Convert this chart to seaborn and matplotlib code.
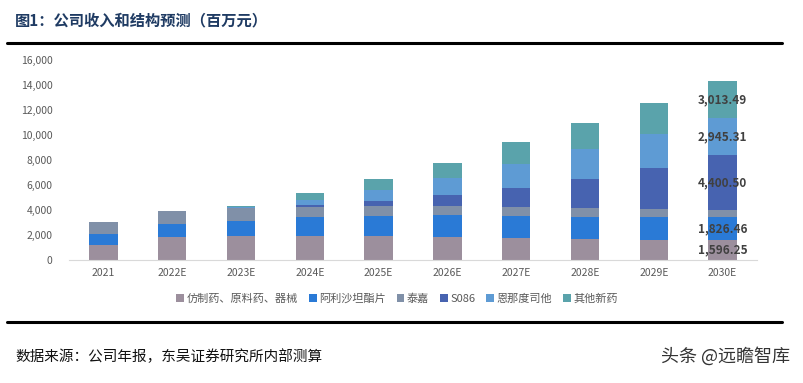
import numpy as np
import pandas as pd
import seaborn as sb
import matplotlib.pyplot as plt
from matplotlib.lines import Line2D

sb.set_style("white")
plt.rcParams['font.family'] = ['Noto Sans CJK SC', 'DejaVu Sans']

# years on the x axis
years = ["2021", "2022E", "2023E", "2024E", "2025E", "2026E", "2027E", "2028E", "2029E", "2030E"]

# revenue by segment (million yuan)
generic = [1230, 1840, 1920, 1900, 1900, 1840, 1760, 1680, 1627, 1596.25]
arisatan = [880, 1010, 1230, 1540, 1650, 1760, 1790, 1790, 1810, 1826.46]
taijia = [900, 1040, 1010, 830, 800, 750, 690, 670, 640, 560]
s086 = [0, 0, 30, 100, 400, 880, 1550, 2350, 3300, 4400.50]
enna = [0, 0, 80, 430, 830, 1360, 1890, 2400, 2670, 2945.31]
other_new = [0, 0, 80, 530, 900, 1150, 1760, 2080, 2500, 3013.49]

names = ["仿制药、原料药、器械", "阿利沙坦酯片", "泰嘉", "S086", "恩那度司他", "其他新药"]
series = [generic, arisatan, taijia, s086, enna, other_new]
colors = ["#9c8f9d", "#2a7ad6", "#8090a8", "#4763b0", "#5e9bd4", "#5aa3ab"]

fig = plt.figure(figsize=(8.04, 3.83), dpi=100)
ax = fig.add_axes([69 / 804, 1 - 260 / 383, (757 - 69) / 804, 200 / 383])

bottom = np.zeros(len(years))
for name, vals, c in zip(names, series, colors):
    vals = np.array(vals, dtype=float)
    sb.barplot(x=years, y=vals, bottom=bottom, color=c, width=0.41,
               ax=ax, label=name, saturation=1, edgecolor="none")
    # value labels only on the last bar (except 泰嘉)
    if name != "泰嘉":
        ax.text(len(years) - 1, bottom[-1] + vals[-1] / 2, f"{vals[-1]:,.2f}",
                ha="center", va="center", fontsize=8.5, fontweight="bold", color="#404040")
    bottom += vals

ax.set_xlim(-0.5, 9.5)
ax.set_ylim(0, 16000)
ax.set_yticks(range(0, 16001, 2000))
ax.set_yticklabels([f"{v:,}" for v in range(0, 16001, 2000)])
ax.tick_params(axis="both", labelsize=7.5, colors="#595959", length=0)
ax.tick_params(axis="y", pad=12)
ax.tick_params(axis="x", pad=6)
for s in ["top", "right", "left"]:
    ax.spines[s].set_visible(False)
ax.spines["bottom"].set_color("#d9d9d9")
ax.set_xlabel("")
ax.set_ylabel("")

ax.legend(loc="center", bbox_to_anchor=(0.5 - 16 / 688, (260 - 299) / 200), ncol=6, frameon=False,
          fontsize=8, handlelength=0.7, handleheight=0.7, handletextpad=0.2,
          columnspacing=1.0, labelcolor="#595959")

fig.text(15 / 804, 1 - 20 / 383, "图1：公司收入和结构预测（百万元）", fontsize=11,
         fontweight="bold", color="#1f3b63", va="center", ha="left")
fig.add_artist(Line2D([7 / 804, 782 / 804], [1 - 43 / 383] * 2, color="black", lw=2.2))
fig.add_artist(Line2D([7 / 804, 782 / 804], [1 - 322 / 383] * 2, color="black", lw=2.2))
fig.text(15 / 804, 1 - 357 / 383, "数据来源：公司年报，东吴证券研究所内部测算", fontsize=10.5,
         color="#111111", va="center", ha="left")
fig.text(790 / 804, 1 - 356 / 383, "头条 @远瞻智库", fontsize=13, color="#333333",
         va="center", ha="right")

fig.savefig("out.png", dpi=100)
